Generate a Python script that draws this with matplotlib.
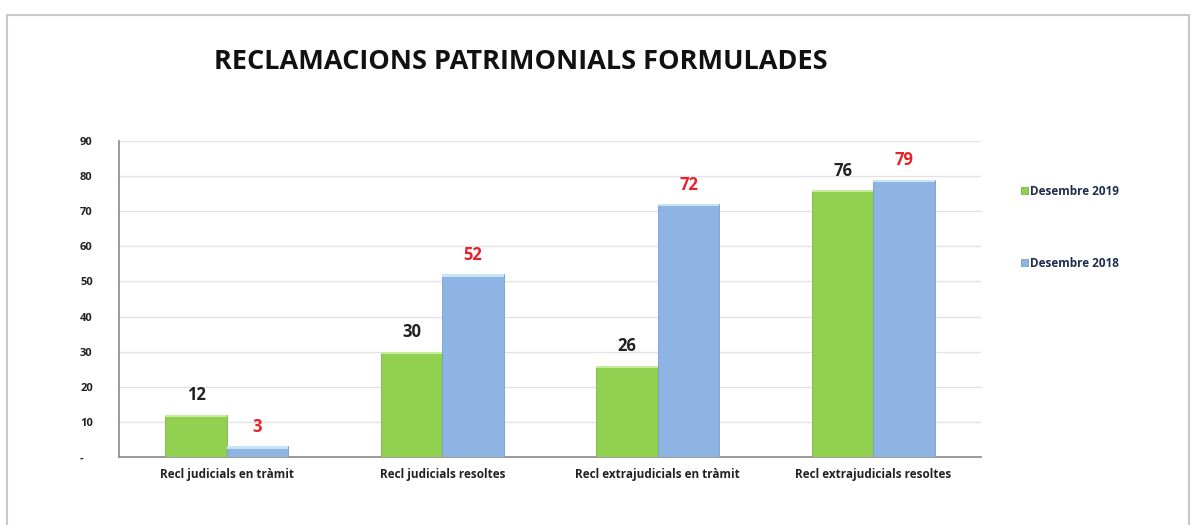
import matplotlib
matplotlib.use("Agg")
import matplotlib.pyplot as plt
import numpy as np
from matplotlib.patches import Rectangle

categories = ["Recl judicials en tràmit", "Recl judicials resoltes",
              "Recl extrajudicials en tràmit", "Recl extrajudicials resoltes"]
series_names = ["Desembre 2019", "Desembre 2018"]
values_2019 = [12, 30, 26, 76]
values_2018 = [3, 52, 72, 79]
yticks = [0, 10, 20, 30, 40, 50, 60, 70, 80, 90]
ytick_labels = ["-", "10", "20", "30", "40", "50", "60", "70", "80", "90"]
title = "RECLAMACIONS PATRIMONIALS FORMULADES"

green = "#92D050"
blue = "#8DB4E2"

plt.rcParams['font.family'] = ['Open Sans', 'DejaVu Sans']

W, H = 1194, 525
fig = plt.figure(figsize=(W / 100, H / 100), dpi=100)
fig.patches.append(Rectangle((7 / W, -0.05), (1189 - 7) / W, 1.05 - 15 / H, transform=fig.transFigure,
                             fill=False, edgecolor="#c8c8c8", linewidth=1.5, zorder=0))

ax_left, ax_right = 119, 981
ax_top, ax_bottom = 141, 457
ax = fig.add_axes([ax_left / W, 1 - ax_bottom / H, (ax_right - ax_left) / W, (ax_bottom - ax_top) / H])

x = np.arange(len(categories))
bw = 0.285
b1 = ax.bar(x - bw / 2, values_2019, bw, color=green, edgecolor="#7fae4a", linewidth=0.6,
            label=series_names[0], zorder=3)
b2 = ax.bar(x + bw / 2, values_2018, bw, color=blue, edgecolor="#7a9cc6", linewidth=0.6,
            label=series_names[1], zorder=3)
# lighter top highlights
ax.bar(x - bw / 2, [0.6] * len(x), bw, bottom=np.array(values_2019) - 0.6, color="#c6eb9a",
       linewidth=0, zorder=4)
ax.bar(x + bw / 2, [0.6] * len(x), bw, bottom=np.array(values_2018) - 0.6, color="#c9e4f7",
       linewidth=0, zorder=4)

for xi, v in zip(x, values_2019):
    ax.text(xi - bw / 2, v + 3, str(v), ha="center", va="bottom", fontsize=12,
            fontweight="bold", color="#222222")
for xi, v in zip(x, values_2018):
    ax.text(xi + bw / 2, v + 3, str(v), ha="center", va="bottom", fontsize=12,
            fontweight="bold", color="#e8202a")

ax.set_xlim(-0.5, 3.5)
ax.set_ylim(0, 90)
ax.set_yticks(yticks)
ax.set_yticklabels(ytick_labels, fontsize=8, fontweight="bold", color="#222222")
ax.set_xticks(x)
ax.set_xticklabels(categories, fontsize=8.5, fontweight="bold", color="#222222")
ax.tick_params(axis="both", length=0)
ax.tick_params(axis="y", pad=28)
ax.tick_params(axis="x", pad=8)
for lab in ax.get_yticklabels():
    lab.set_horizontalalignment("left")
ax.yaxis.grid(True, color="#e3e3e3", linewidth=1, zorder=0)
ax.set_axisbelow(True)
for s in ["top", "right"]:
    ax.spines[s].set_visible(False)
ax.spines["left"].set_color("#8a8a8a")
ax.spines["bottom"].set_color("#8a8a8a")
ax.spines["left"].set_linewidth(1.2)
ax.spines["bottom"].set_linewidth(1.2)

fig.text(521 / W, 1 - 62 / H, title, ha="center", va="center", fontsize=19.5,
         fontweight="bold", color="#111111")

leg = fig.legend(handles=[b1, b2], labels=series_names, loc="upper left",
                 bbox_to_anchor=(1010 / W, 1 - 174 / H), frameon=False,
                 handlelength=0.6, handleheight=0.6, handletextpad=0.2,
                 labelspacing=5.0, prop={"weight": "bold", "size": 8.5})
for t in leg.get_texts():
    t.set_color("#1f2d4e")

fig.savefig("out.png", dpi=100)
